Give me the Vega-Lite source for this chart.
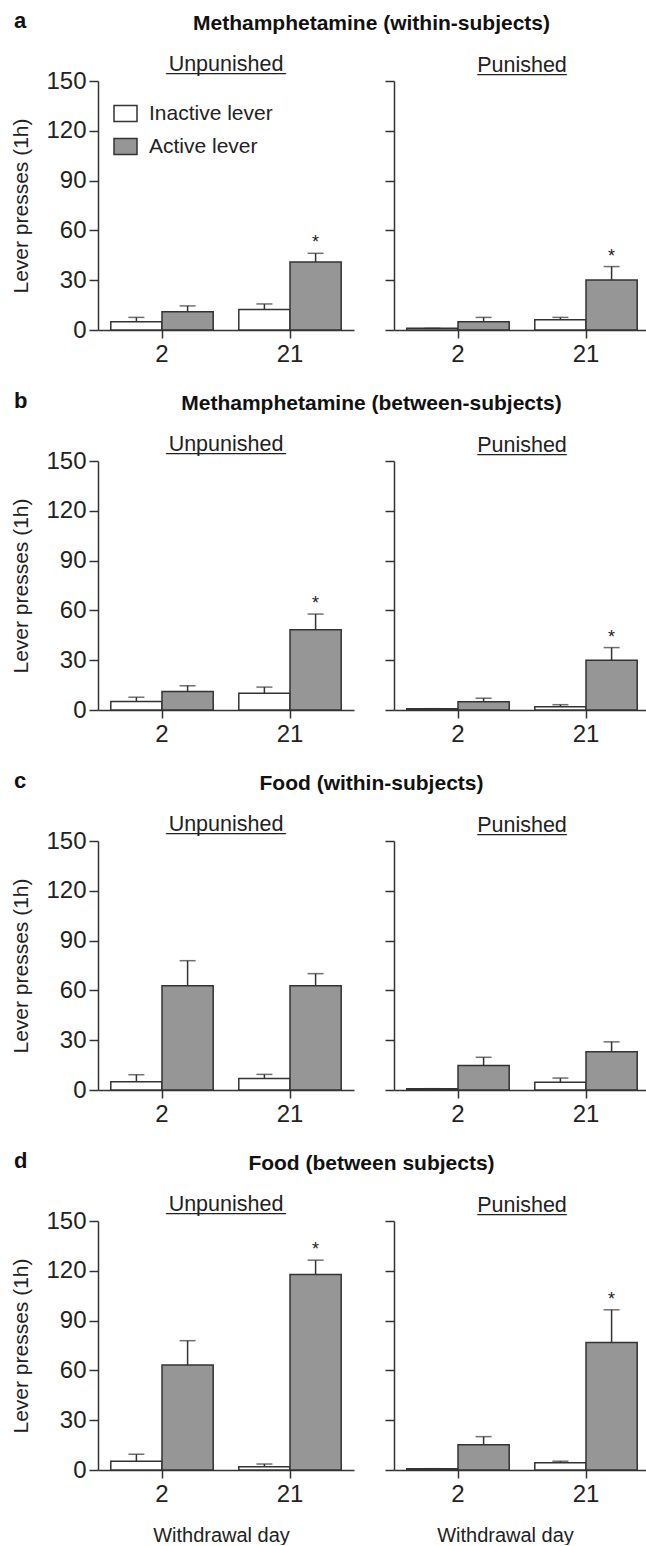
{
  "$schema": "https://vega.github.io/schema/vega-lite/v6.json",
  "padding": {"left": 10, "top": 9, "right": 0, "bottom": 0},
  "background": "white",
  "config": {
    "font": "Liberation Sans",
    "view": {"stroke": null},
    "axis": {"domainColor": "#333", "domainWidth": 1.5, "tickColor": "#333", "tickWidth": 1.5, "tickSize": 9, "labelFont": "Liberation Sans", "labelFontSize": 24, "labelColor": "#222", "labelPadding": 3, "titleFont": "Liberation Sans", "titleFontSize": 21, "titleFontWeight": "normal", "titleColor": "#222", "titlePadding": 14, "grid": false},
    "axisX": {"labelAngle": 0, "tickSize": 8, "labelPadding": 4, "titlePadding": 19, "titleFontSize": 20},
    "title": {"font": "Liberation Sans", "fontSize": 21.5, "fontWeight": "normal", "color": "#222", "anchor": "middle", "offset": 4, "subtitleFont": "Liberation Sans", "subtitleFontSize": 21.5, "subtitleColor": "#222", "subtitlePadding": -23}
  },
  "datasets": {
    "bars": [
      {"row": "a", "cond": "Unpunished", "day": "2", "lever": "Inactive lever", "mean": 5.0, "hi": 7.6, "sig": ""},
      {"row": "a", "cond": "Unpunished", "day": "2", "lever": "Active lever", "mean": 11.0, "hi": 14.5, "sig": ""},
      {"row": "a", "cond": "Unpunished", "day": "21", "lever": "Inactive lever", "mean": 12.4, "hi": 15.7, "sig": ""},
      {"row": "a", "cond": "Unpunished", "day": "21", "lever": "Active lever", "mean": 41.0, "hi": 46.2, "sig": "*"},
      {"row": "a", "cond": "Punished", "day": "2", "lever": "Inactive lever", "mean": 1.0, "hi": 1.0, "sig": ""},
      {"row": "a", "cond": "Punished", "day": "2", "lever": "Active lever", "mean": 5.0, "hi": 7.6, "sig": ""},
      {"row": "a", "cond": "Punished", "day": "21", "lever": "Inactive lever", "mean": 6.2, "hi": 7.6, "sig": ""},
      {"row": "a", "cond": "Punished", "day": "21", "lever": "Active lever", "mean": 30.1, "hi": 38.2, "sig": "*"},
      {"row": "b", "cond": "Unpunished", "day": "2", "lever": "Inactive lever", "mean": 5.1, "hi": 7.7, "sig": ""},
      {"row": "b", "cond": "Unpunished", "day": "2", "lever": "Active lever", "mean": 11.2, "hi": 14.6, "sig": ""},
      {"row": "b", "cond": "Unpunished", "day": "21", "lever": "Inactive lever", "mean": 10.1, "hi": 13.8, "sig": ""},
      {"row": "b", "cond": "Unpunished", "day": "21", "lever": "Active lever", "mean": 48.3, "hi": 57.8, "sig": "*"},
      {"row": "b", "cond": "Punished", "day": "2", "lever": "Inactive lever", "mean": 0.8, "hi": 0.8, "sig": ""},
      {"row": "b", "cond": "Punished", "day": "2", "lever": "Active lever", "mean": 5.0, "hi": 7.1, "sig": ""},
      {"row": "b", "cond": "Punished", "day": "21", "lever": "Inactive lever", "mean": 2.0, "hi": 3.2, "sig": ""},
      {"row": "b", "cond": "Punished", "day": "21", "lever": "Active lever", "mean": 29.9, "hi": 37.6, "sig": "*"},
      {"row": "c", "cond": "Unpunished", "day": "2", "lever": "Inactive lever", "mean": 5.0, "hi": 9.2, "sig": ""},
      {"row": "c", "cond": "Unpunished", "day": "2", "lever": "Active lever", "mean": 62.8, "hi": 77.9, "sig": ""},
      {"row": "c", "cond": "Unpunished", "day": "21", "lever": "Inactive lever", "mean": 7.0, "hi": 9.4, "sig": ""},
      {"row": "c", "cond": "Unpunished", "day": "21", "lever": "Active lever", "mean": 62.8, "hi": 70.1, "sig": ""},
      {"row": "c", "cond": "Punished", "day": "2", "lever": "Inactive lever", "mean": 0.8, "hi": 0.8, "sig": ""},
      {"row": "c", "cond": "Punished", "day": "2", "lever": "Active lever", "mean": 14.7, "hi": 19.7, "sig": ""},
      {"row": "c", "cond": "Punished", "day": "21", "lever": "Inactive lever", "mean": 4.6, "hi": 7.2, "sig": ""},
      {"row": "c", "cond": "Punished", "day": "21", "lever": "Active lever", "mean": 23.1, "hi": 29.0, "sig": ""},
      {"row": "d", "cond": "Unpunished", "day": "2", "lever": "Inactive lever", "mean": 5.2, "hi": 9.5, "sig": ""},
      {"row": "d", "cond": "Unpunished", "day": "2", "lever": "Active lever", "mean": 63.2, "hi": 77.9, "sig": ""},
      {"row": "d", "cond": "Unpunished", "day": "21", "lever": "Inactive lever", "mean": 2.0, "hi": 3.6, "sig": ""},
      {"row": "d", "cond": "Unpunished", "day": "21", "lever": "Active lever", "mean": 117.8, "hi": 126.4, "sig": "*"},
      {"row": "d", "cond": "Punished", "day": "2", "lever": "Inactive lever", "mean": 0.8, "hi": 0.8, "sig": ""},
      {"row": "d", "cond": "Punished", "day": "2", "lever": "Active lever", "mean": 15.2, "hi": 20.1, "sig": ""},
      {"row": "d", "cond": "Punished", "day": "21", "lever": "Inactive lever", "mean": 4.3, "hi": 5.3, "sig": ""},
      {"row": "d", "cond": "Punished", "day": "21", "lever": "Active lever", "mean": 76.8, "hi": 96.5, "sig": "*"}
    ]
  },
  "spacing": 23,
  "vconcat": [
    {
      "title": {"text": "a", "anchor": "start", "frame": "bounds", "fontSize": 22, "fontWeight": "bold", "color": "#111", "offset": -20, "dx": 3},
      "vconcat": [{
        "title": {"text": "Methamphetamine (within-subjects)", "fontSize": 21, "fontWeight": "bold", "color": "#111", "offset": 19, "dx": 41},
        "spacing": 30,
        "resolve": {"scale": {"fill": "independent", "y": "independent", "x": "independent"}, "legend": {"fill": "independent"}},
        "hconcat": [
          {
            "title": {"text": "Unpunished ", "subtitle": "__________", "offset": -8},
            "width": 256, "height": 249,
            "data": {"name": "bars"},
            "transform": [{"filter": "datum.row == 'a' && datum.cond == 'Unpunished'"}],
            "encoding": {
              "x": {"field": "day", "type": "ordinal", "sort": ["2", "21"], "scale": {"paddingInner": 0.2, "paddingOuter": 0.1}, "axis": {"title": null}},
              "xOffset": {"field": "lever", "type": "nominal", "sort": ["Inactive lever", "Active lever"], "scale": {"paddingInner": 0, "paddingOuter": 0}}
            },
            "layer": [
              {"mark": {"type": "bar", "stroke": "#333", "strokeWidth": 1.5},
               "encoding": {
                 "y": {"field": "mean", "type": "quantitative", "scale": {"domain": [0, 150], "nice": false}, "axis": {"values": [0, 30, 60, 90, 120, 150], "title": "Lever presses (1h)"}},
                 "fill": {"field": "lever", "type": "nominal", "scale": {"domain": ["Inactive lever", "Active lever"], "range": ["#ffffff", "#969696"]},
                   "legend": {"orient": "none", "legendX": 15, "legendY": 20, "title": null, "symbolType": "M-1,-0.7H1V0.7H-1Z", "symbolSize": 529, "symbolStrokeColor": "#333", "symbolStrokeWidth": 1.5, "labelFontSize": 21, "labelFont": "Liberation Sans", "labelColor": "#222", "labelOffset": 11, "rowPadding": 9}}
               }},
              {"mark": {"type": "rule", "color": "#333", "strokeWidth": 1.5}, "encoding": {"y": {"field": "mean", "type": "quantitative"}, "y2": {"field": "hi"}}},
              {"mark": {"type": "tick", "color": "#333", "thickness": 1.5, "size": 16}, "encoding": {"y": {"field": "hi", "type": "quantitative"}}},
              {"mark": {"type": "text", "dy": -10, "fontSize": 18, "color": "#222"}, "encoding": {"y": {"field": "hi", "type": "quantitative"}, "text": {"field": "sig"}}}
            ]
          },
          {
            "title": {"text": "Punished", "subtitle": "________", "subtitleFontSize": 20, "subtitlePadding": -21.5},
            "width": 256, "height": 249,
            "data": {"name": "bars"},
            "transform": [{"filter": "datum.row == 'a' && datum.cond == 'Punished'"}],
            "encoding": {
              "x": {"field": "day", "type": "ordinal", "sort": ["2", "21"], "scale": {"paddingInner": 0.2, "paddingOuter": 0.1}, "axis": {"title": null}},
              "xOffset": {"field": "lever", "type": "nominal", "sort": ["Inactive lever", "Active lever"], "scale": {"paddingInner": 0, "paddingOuter": 0}}
            },
            "layer": [
              {"mark": {"type": "bar", "stroke": "#333", "strokeWidth": 1.5},
               "encoding": {
                 "y": {"field": "mean", "type": "quantitative", "scale": {"domain": [0, 150], "nice": false}, "axis": {"values": [0, 30, 60, 90, 120, 150], "labels": false, "title": null}},
                 "fill": {"field": "lever", "type": "nominal", "scale": {"domain": ["Inactive lever", "Active lever"], "range": ["#ffffff", "#969696"]}, "legend": null}
               }},
              {"mark": {"type": "rule", "color": "#333", "strokeWidth": 1.5}, "encoding": {"y": {"field": "mean", "type": "quantitative"}, "y2": {"field": "hi"}}},
              {"mark": {"type": "tick", "color": "#333", "thickness": 1.5, "size": 16}, "encoding": {"y": {"field": "hi", "type": "quantitative"}}},
              {"mark": {"type": "text", "dy": -10, "fontSize": 18, "color": "#222"}, "encoding": {"y": {"field": "hi", "type": "quantitative"}, "text": {"field": "sig"}}}
            ]
          }
        ]
      }]
    },
    {
      "title": {"text": "b", "anchor": "start", "frame": "bounds", "fontSize": 22, "fontWeight": "bold", "color": "#111", "offset": -20, "dx": 3},
      "vconcat": [{
        "title": {"text": "Methamphetamine (between-subjects)", "fontSize": 21, "fontWeight": "bold", "color": "#111", "offset": 19, "dx": 41},
        "spacing": 30,
        "resolve": {"scale": {"fill": "independent", "y": "independent", "x": "independent"}, "legend": {"fill": "independent"}},
        "hconcat": [
          {
            "title": {"text": "Unpunished ", "subtitle": "__________", "offset": -8},
            "width": 256, "height": 249,
            "data": {"name": "bars"},
            "transform": [{"filter": "datum.row == 'b' && datum.cond == 'Unpunished'"}],
            "encoding": {
              "x": {"field": "day", "type": "ordinal", "sort": ["2", "21"], "scale": {"paddingInner": 0.2, "paddingOuter": 0.1}, "axis": {"title": null}},
              "xOffset": {"field": "lever", "type": "nominal", "sort": ["Inactive lever", "Active lever"], "scale": {"paddingInner": 0, "paddingOuter": 0}}
            },
            "layer": [
              {"mark": {"type": "bar", "stroke": "#333", "strokeWidth": 1.5},
               "encoding": {
                 "y": {"field": "mean", "type": "quantitative", "scale": {"domain": [0, 150], "nice": false}, "axis": {"values": [0, 30, 60, 90, 120, 150], "title": "Lever presses (1h)"}},
                 "fill": {"field": "lever", "type": "nominal", "scale": {"domain": ["Inactive lever", "Active lever"], "range": ["#ffffff", "#969696"]}, "legend": null}
               }},
              {"mark": {"type": "rule", "color": "#333", "strokeWidth": 1.5}, "encoding": {"y": {"field": "mean", "type": "quantitative"}, "y2": {"field": "hi"}}},
              {"mark": {"type": "tick", "color": "#333", "thickness": 1.5, "size": 16}, "encoding": {"y": {"field": "hi", "type": "quantitative"}}},
              {"mark": {"type": "text", "dy": -10, "fontSize": 18, "color": "#222"}, "encoding": {"y": {"field": "hi", "type": "quantitative"}, "text": {"field": "sig"}}}
            ]
          },
          {
            "title": {"text": "Punished", "subtitle": "________", "subtitleFontSize": 20, "subtitlePadding": -21.5},
            "width": 256, "height": 249,
            "data": {"name": "bars"},
            "transform": [{"filter": "datum.row == 'b' && datum.cond == 'Punished'"}],
            "encoding": {
              "x": {"field": "day", "type": "ordinal", "sort": ["2", "21"], "scale": {"paddingInner": 0.2, "paddingOuter": 0.1}, "axis": {"title": null}},
              "xOffset": {"field": "lever", "type": "nominal", "sort": ["Inactive lever", "Active lever"], "scale": {"paddingInner": 0, "paddingOuter": 0}}
            },
            "layer": [
              {"mark": {"type": "bar", "stroke": "#333", "strokeWidth": 1.5},
               "encoding": {
                 "y": {"field": "mean", "type": "quantitative", "scale": {"domain": [0, 150], "nice": false}, "axis": {"values": [0, 30, 60, 90, 120, 150], "labels": false, "title": null}},
                 "fill": {"field": "lever", "type": "nominal", "scale": {"domain": ["Inactive lever", "Active lever"], "range": ["#ffffff", "#969696"]}, "legend": null}
               }},
              {"mark": {"type": "rule", "color": "#333", "strokeWidth": 1.5}, "encoding": {"y": {"field": "mean", "type": "quantitative"}, "y2": {"field": "hi"}}},
              {"mark": {"type": "tick", "color": "#333", "thickness": 1.5, "size": 16}, "encoding": {"y": {"field": "hi", "type": "quantitative"}}},
              {"mark": {"type": "text", "dy": -10, "fontSize": 18, "color": "#222"}, "encoding": {"y": {"field": "hi", "type": "quantitative"}, "text": {"field": "sig"}}}
            ]
          }
        ]
      }]
    },
    {
      "title": {"text": "c", "anchor": "start", "frame": "bounds", "fontSize": 22, "fontWeight": "bold", "color": "#111", "offset": -20, "dx": 3},
      "vconcat": [{
        "title": {"text": "Food (within-subjects)", "fontSize": 21, "fontWeight": "bold", "color": "#111", "offset": 19, "dx": 41},
        "spacing": 30,
        "resolve": {"scale": {"fill": "independent", "y": "independent", "x": "independent"}, "legend": {"fill": "independent"}},
        "hconcat": [
          {
            "title": {"text": "Unpunished ", "subtitle": "__________", "offset": -8},
            "width": 256, "height": 249,
            "data": {"name": "bars"},
            "transform": [{"filter": "datum.row == 'c' && datum.cond == 'Unpunished'"}],
            "encoding": {
              "x": {"field": "day", "type": "ordinal", "sort": ["2", "21"], "scale": {"paddingInner": 0.2, "paddingOuter": 0.1}, "axis": {"title": null}},
              "xOffset": {"field": "lever", "type": "nominal", "sort": ["Inactive lever", "Active lever"], "scale": {"paddingInner": 0, "paddingOuter": 0}}
            },
            "layer": [
              {"mark": {"type": "bar", "stroke": "#333", "strokeWidth": 1.5},
               "encoding": {
                 "y": {"field": "mean", "type": "quantitative", "scale": {"domain": [0, 150], "nice": false}, "axis": {"values": [0, 30, 60, 90, 120, 150], "title": "Lever presses (1h)"}},
                 "fill": {"field": "lever", "type": "nominal", "scale": {"domain": ["Inactive lever", "Active lever"], "range": ["#ffffff", "#969696"]}, "legend": null}
               }},
              {"mark": {"type": "rule", "color": "#333", "strokeWidth": 1.5}, "encoding": {"y": {"field": "mean", "type": "quantitative"}, "y2": {"field": "hi"}}},
              {"mark": {"type": "tick", "color": "#333", "thickness": 1.5, "size": 16}, "encoding": {"y": {"field": "hi", "type": "quantitative"}}},
              {"mark": {"type": "text", "dy": -10, "fontSize": 18, "color": "#222"}, "encoding": {"y": {"field": "hi", "type": "quantitative"}, "text": {"field": "sig"}}}
            ]
          },
          {
            "title": {"text": "Punished", "subtitle": "________", "subtitleFontSize": 20, "subtitlePadding": -21.5},
            "width": 256, "height": 249,
            "data": {"name": "bars"},
            "transform": [{"filter": "datum.row == 'c' && datum.cond == 'Punished'"}],
            "encoding": {
              "x": {"field": "day", "type": "ordinal", "sort": ["2", "21"], "scale": {"paddingInner": 0.2, "paddingOuter": 0.1}, "axis": {"title": null}},
              "xOffset": {"field": "lever", "type": "nominal", "sort": ["Inactive lever", "Active lever"], "scale": {"paddingInner": 0, "paddingOuter": 0}}
            },
            "layer": [
              {"mark": {"type": "bar", "stroke": "#333", "strokeWidth": 1.5},
               "encoding": {
                 "y": {"field": "mean", "type": "quantitative", "scale": {"domain": [0, 150], "nice": false}, "axis": {"values": [0, 30, 60, 90, 120, 150], "labels": false, "title": null}},
                 "fill": {"field": "lever", "type": "nominal", "scale": {"domain": ["Inactive lever", "Active lever"], "range": ["#ffffff", "#969696"]}, "legend": null}
               }},
              {"mark": {"type": "rule", "color": "#333", "strokeWidth": 1.5}, "encoding": {"y": {"field": "mean", "type": "quantitative"}, "y2": {"field": "hi"}}},
              {"mark": {"type": "tick", "color": "#333", "thickness": 1.5, "size": 16}, "encoding": {"y": {"field": "hi", "type": "quantitative"}}},
              {"mark": {"type": "text", "dy": -10, "fontSize": 18, "color": "#222"}, "encoding": {"y": {"field": "hi", "type": "quantitative"}, "text": {"field": "sig"}}}
            ]
          }
        ]
      }]
    },
    {
      "title": {"text": "d", "anchor": "start", "frame": "bounds", "fontSize": 22, "fontWeight": "bold", "color": "#111", "offset": -20, "dx": 3},
      "vconcat": [{
        "title": {"text": "Food (between subjects)", "fontSize": 21, "fontWeight": "bold", "color": "#111", "offset": 19, "dx": 41},
        "spacing": 30,
        "resolve": {"scale": {"fill": "independent", "y": "independent", "x": "independent"}, "legend": {"fill": "independent"}},
        "hconcat": [
          {
            "title": {"text": "Unpunished ", "subtitle": "__________", "offset": -8},
            "width": 256, "height": 249,
            "data": {"name": "bars"},
            "transform": [{"filter": "datum.row == 'd' && datum.cond == 'Unpunished'"}],
            "encoding": {
              "x": {"field": "day", "type": "ordinal", "sort": ["2", "21"], "scale": {"paddingInner": 0.2, "paddingOuter": 0.1}, "axis": {"title": "Withdrawal day", "titleX": 123}},
              "xOffset": {"field": "lever", "type": "nominal", "sort": ["Inactive lever", "Active lever"], "scale": {"paddingInner": 0, "paddingOuter": 0}}
            },
            "layer": [
              {"mark": {"type": "bar", "stroke": "#333", "strokeWidth": 1.5},
               "encoding": {
                 "y": {"field": "mean", "type": "quantitative", "scale": {"domain": [0, 150], "nice": false}, "axis": {"values": [0, 30, 60, 90, 120, 150], "title": "Lever presses (1h)"}},
                 "fill": {"field": "lever", "type": "nominal", "scale": {"domain": ["Inactive lever", "Active lever"], "range": ["#ffffff", "#969696"]}, "legend": null}
               }},
              {"mark": {"type": "rule", "color": "#333", "strokeWidth": 1.5}, "encoding": {"y": {"field": "mean", "type": "quantitative"}, "y2": {"field": "hi"}}},
              {"mark": {"type": "tick", "color": "#333", "thickness": 1.5, "size": 16}, "encoding": {"y": {"field": "hi", "type": "quantitative"}}},
              {"mark": {"type": "text", "dy": -10, "fontSize": 18, "color": "#222"}, "encoding": {"y": {"field": "hi", "type": "quantitative"}, "text": {"field": "sig"}}}
            ]
          },
          {
            "title": {"text": "Punished", "subtitle": "________", "subtitleFontSize": 20, "subtitlePadding": -21.5},
            "width": 256, "height": 249,
            "data": {"name": "bars"},
            "transform": [{"filter": "datum.row == 'd' && datum.cond == 'Punished'"}],
            "encoding": {
              "x": {"field": "day", "type": "ordinal", "sort": ["2", "21"], "scale": {"paddingInner": 0.2, "paddingOuter": 0.1}, "axis": {"title": "Withdrawal day", "titleX": 111}},
              "xOffset": {"field": "lever", "type": "nominal", "sort": ["Inactive lever", "Active lever"], "scale": {"paddingInner": 0, "paddingOuter": 0}}
            },
            "layer": [
              {"mark": {"type": "bar", "stroke": "#333", "strokeWidth": 1.5},
               "encoding": {
                 "y": {"field": "mean", "type": "quantitative", "scale": {"domain": [0, 150], "nice": false}, "axis": {"values": [0, 30, 60, 90, 120, 150], "labels": false, "title": null}},
                 "fill": {"field": "lever", "type": "nominal", "scale": {"domain": ["Inactive lever", "Active lever"], "range": ["#ffffff", "#969696"]}, "legend": null}
               }},
              {"mark": {"type": "rule", "color": "#333", "strokeWidth": 1.5}, "encoding": {"y": {"field": "mean", "type": "quantitative"}, "y2": {"field": "hi"}}},
              {"mark": {"type": "tick", "color": "#333", "thickness": 1.5, "size": 16}, "encoding": {"y": {"field": "hi", "type": "quantitative"}}},
              {"mark": {"type": "text", "dy": -10, "fontSize": 18, "color": "#222"}, "encoding": {"y": {"field": "hi", "type": "quantitative"}, "text": {"field": "sig"}}}
            ]
          }
        ]
      }]
    }
  ]
}
